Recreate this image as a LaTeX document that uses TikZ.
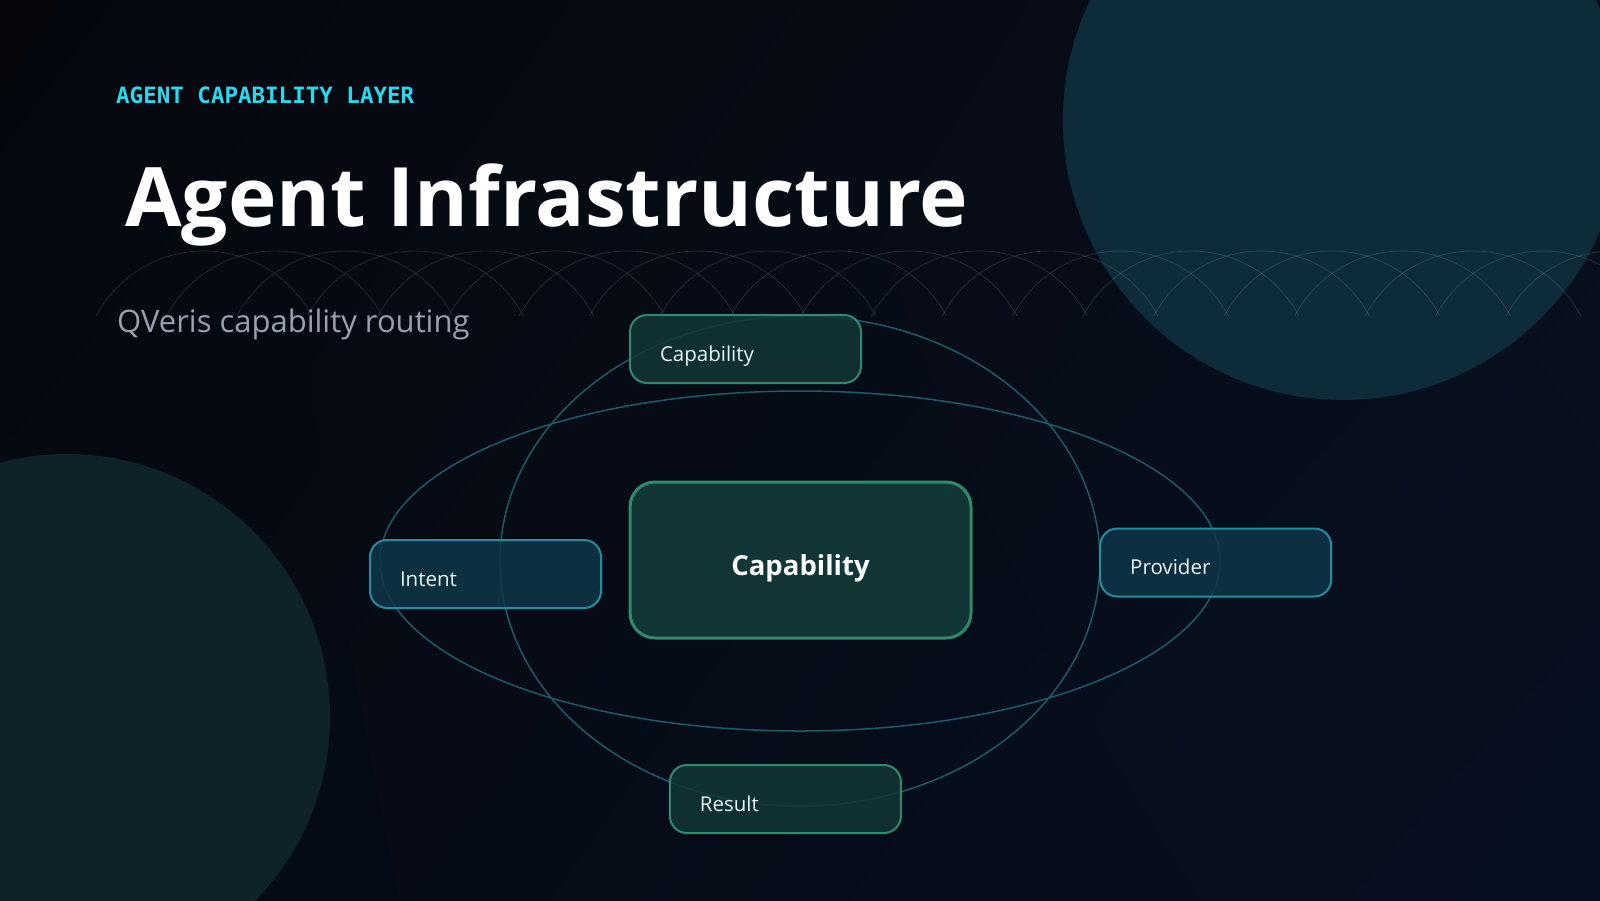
\documentclass[tikz,border=0pt]{standalone}
\usepackage{fontspec}
\usetikzlibrary{shadings}
\setmainfont{Open Sans}
\newfontfamily\kickfont{DejaVu Sans Mono}

\definecolor{bgtl}{RGB}{5,7,13}
\definecolor{bgtr}{RGB}{8,14,26}
\definecolor{bgbl}{RGB}{5,10,18}
\definecolor{bgbr}{RGB}{7,16,34}
\definecolor{blobtr}{RGB}{13,43,57}
\definecolor{blobbl}{RGB}{13,35,40}
\definecolor{kicker}{RGB}{40,218,240}
\definecolor{subgrey}{RGB}{152,162,174}
\definecolor{orbitc}{RGB}{26,92,104}
\definecolor{greenedge}{RGB}{46,140,110}
\definecolor{greenfill}{RGB}{18,54,54}
\definecolor{blueedge}{RGB}{38,140,160}
\definecolor{bluefill}{RGB}{14,55,72}
\definecolor{cardtext}{RGB}{232,244,244}

\begin{document}
\begin{tikzpicture}[x=1pt,y=-1pt,
    arcline/.style={white,opacity=.12,line width=.8pt},
    orbit/.style={draw=orbitc,line width=1.5pt},
    card/.style={rectangle,rounded corners=17pt,line width=2pt,fill opacity=.85,text opacity=1,
        minimum width=231pt,minimum height=68pt,text width=171pt,inner xsep=30pt,inner ysep=0pt,
        align=left,text height=24pt,text depth=0pt,text=cardtext,font=\fontsize{20.5}{20.5}\selectfont},
    greencard/.style={card,draw=greenedge,fill=greenfill},
    bluecard/.style={card,draw=blueedge,fill=bluefill}]

    \useasboundingbox (0,0) rectangle (1600,900);
    \clip (0,0) rectangle (1600,900);
    \shade[upper left=bgtl,upper right=bgtr,lower left=bgbl,lower right=bgbr] (0,0) rectangle (1600,900);

    \fill[blobtr] (1343,120) circle[radius=280];
    \fill[blobbl] (67,717) circle[radius=263];

    \begin{scope}
    \clip (0,249) rectangle (1600,315.5);
    \foreach \p in {0,...,20}
    \draw[arcline] ({204+70.5*\p},373) circle[radius=122];
    \end{scope}

    \node[anchor=base west,inner sep=0pt,text=kicker,font=\kickfont\bfseries\fontsize{22.5}{22.5}\selectfont] (kicker) at (116,103) {AGENT CAPABILITY LAYER};
    \node[anchor=base west,inner sep=0pt,text=white,font=\bfseries\fontsize{82}{82}\selectfont] (title) at (125,226) {Agent Infrastructure};
    \node[anchor=base west,inner sep=0pt,text=subgrey,font=\fontsize{31}{31}\selectfont] (subtitle) at (117,332) {QVeris capability routing};

    \draw[orbit] (800,561) ellipse[x radius=420,y radius=170];
    \draw[orbit] (800,561) ellipse[x radius=300,y radius=245];

    \node[greencard] (captop) at (745.5,349) {Capability};
    \node[bluecard] (intent) at (485.5,574) {Intent};
    \node[bluecard] (provider) at (1215.7,562.5) {Provider};
    \node[greencard] (result) at (785.4,799) {Result};
    \node[rectangle,rounded corners=25pt,line width=3pt,draw=greenedge,fill=greenfill,
        minimum width=341pt,minimum height=156pt,text height=31pt,text depth=0pt,
        text=white,font=\bfseries\fontsize{27.5}{27.5}\selectfont] (core) at (800.5,560) {Capability};

\end{tikzpicture}
\end{document}
